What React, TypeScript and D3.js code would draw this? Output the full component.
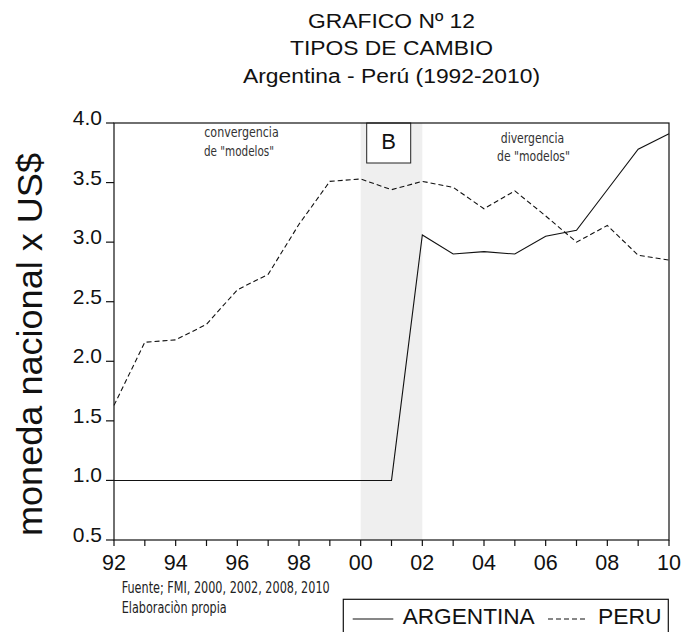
import React from "react";
import * as d3 from "d3";

const years = [1992, 1993, 1994, 1995, 1996, 1997, 1998, 1999, 2000, 2001, 2002, 2003, 2004, 2005, 2006, 2007, 2008, 2009, 2010];
const argentina = [1.0, 1.0, 1.0, 1.0, 1.0, 1.0, 1.0, 1.0, 1.0, 1.0, 3.06, 2.9, 2.92, 2.9, 3.05, 3.1, 3.44, 3.78, 3.91];
const peru = [1.63, 2.16, 2.18, 2.31, 2.6, 2.73, 3.15, 3.51, 3.53, 3.44, 3.51, 3.46, 3.28, 3.43, 3.22, 3.0, 3.14, 2.89, 2.85];
const yTicks = [0.5, 1.0, 1.5, 2.0, 2.5, 3.0, 3.5, 4.0];
const xLabelYears = [1992, 1994, 1996, 1998, 2000, 2002, 2004, 2006, 2008, 2010];
const shadeRange = [2000, 2002];
const titleLines = ["GRAFICO Nº 12", "TIPOS DE CAMBIO", "Argentina - Perú (1992-2010)"];
const yAxisTitle = "moneda nacional x US$";
const sourceLines = ["Fuente; FMI, 2000, 2002, 2008, 2010", "Elaboraciòn propia"];
const seriesNames = ["ARGENTINA", "PERU"];

const SANS = "'Liberation Sans', Arial, Helvetica, sans-serif";
const NARROW = "'Liberation Sans Narrow', 'Arial Narrow', 'DejaVu Sans Condensed', sans-serif";

export default function App() {
  const left = 114, right = 669, top = 123, bottom = 540;
  const x = d3.scaleLinear().domain([1992, 2010]).range([left, right]);
  const y = d3.scaleLinear().domain([0.5, 4.0]).range([bottom, top]);
  const line = d3
    .line<number>()
    .x((_, i) => x(years[i]))
    .y((d) => y(d));

  const titleWidths = [167, 203, 297];
  const titleBaselines = [28, 55, 83];

  return (
    <svg width={684} height={632} style={{ position: "absolute", left: 0, top: 0, background: "#fff" }}>
      <rect x={0} y={0} width={684} height={632} fill="#fff" />
      {/* title */}
      {titleLines.map((t, i) => (
        <text
          key={t}
          x={391.5}
          y={titleBaselines[i]}
          textAnchor="middle"
          fontFamily={SANS}
          fontSize={20}
          fill="#111"
          textLength={titleWidths[i]}
          lengthAdjust="spacingAndGlyphs"
        >
          {t}
        </text>
      ))}

      {/* shaded period */}
      <rect
        x={x(shadeRange[0])}
        y={top}
        width={x(shadeRange[1]) - x(shadeRange[0])}
        height={bottom - top}
        fill="#efefef"
      />

      {/* annotations */}
      <text x={241.5} y={137} textAnchor="middle" fontFamily={NARROW} fontSize={14} fill="#333" textLength={74.5} lengthAdjust="spacingAndGlyphs">
        convergencia
      </text>
      <text x={239} y={156} textAnchor="middle" fontFamily={NARROW} fontSize={14} fill="#333" textLength={70} lengthAdjust="spacingAndGlyphs">
        de "modelos"
      </text>
      <text x={532.5} y={142.5} textAnchor="middle" fontFamily={NARROW} fontSize={14} fill="#333" textLength={63.5} lengthAdjust="spacingAndGlyphs">
        divergencia
      </text>
      <text x={533.5} y={160.5} textAnchor="middle" fontFamily={NARROW} fontSize={14} fill="#333" textLength={73} lengthAdjust="spacingAndGlyphs">
        de "modelos"
      </text>

      {/* series */}
      <path d={line(argentina) || ""} fill="none" stroke="#111" strokeWidth={1.1} />
      <path d={line(peru) || ""} fill="none" stroke="#111" strokeWidth={1.1} strokeDasharray="5,3" />

      {/* B box */}
      <rect x={366.7} y={top} width={44} height={40} fill="#fff" stroke="#222" strokeWidth={1} />
      <text x={388.7} y={148.5} textAnchor="middle" fontFamily={SANS} fontSize={22} fill="#111">
        B
      </text>

      {/* frame */}
      <rect x={left} y={top} width={right - left} height={bottom - top} fill="none" stroke="#111" strokeWidth={1.2} />

      {/* y ticks */}
      {yTicks.map((v) => (
        <g key={v}>
          <line x1={left - 8} x2={left} y1={y(v)} y2={y(v)} stroke="#111" strokeWidth={1.2} />
          <text x={102} y={y(v) + 2} textAnchor="end" fontFamily={SANS} fontSize={21} fill="#111">
            {v.toFixed(1)}
          </text>
        </g>
      ))}

      {/* x ticks */}
      {years.map((yr) => (
        <line key={yr} x1={x(yr)} x2={x(yr)} y1={bottom} y2={bottom + 6} stroke="#111" strokeWidth={1.2} />
      ))}
      {xLabelYears.map((yr) => (
        <text key={yr} x={x(yr)} y={570} textAnchor="middle" fontFamily={SANS} fontSize={21.5} fill="#111">
          {String(yr).slice(2)}
        </text>
      ))}

      {/* y axis title */}
      <text
        transform={`translate(42,344.5) rotate(-90)`}
        textAnchor="middle"
        fontFamily={SANS}
        fontSize={35}
        fill="#111"
        textLength={383}
        lengthAdjust="spacingAndGlyphs"
      >
        {yAxisTitle}
      </text>

      {/* source */}
      <text x={121.7} y={593} fontFamily={NARROW} fontSize={15} fill="#222" textLength={208} lengthAdjust="spacingAndGlyphs">
        {sourceLines[0]}
      </text>
      <text x={121.7} y={613} fontFamily={NARROW} fontSize={15} fill="#222" textLength={105} lengthAdjust="spacingAndGlyphs">
        {sourceLines[1]}
      </text>

      {/* legend */}
      <rect x={343.3} y={599.3} width={325} height={50} fill="#fff" stroke="#111" strokeWidth={1.2} />
      <line x1={352.7} x2={393.3} y1={619} y2={619} stroke="#111" strokeWidth={1.1} />
      <text x={402.7} y={623.5} fontFamily={SANS} fontSize={22} fill="#111" textLength={132} lengthAdjust="spacingAndGlyphs">
        {seriesNames[0]}
      </text>
      <line x1={548} x2={587} y1={619} y2={619} stroke="#111" strokeWidth={1.1} strokeDasharray="5,3" />
      <text x={598} y={623.5} fontFamily={SANS} fontSize={22} fill="#111" textLength={63.5} lengthAdjust="spacingAndGlyphs">
        {seriesNames[1]}
      </text>
    </svg>
  );
}
